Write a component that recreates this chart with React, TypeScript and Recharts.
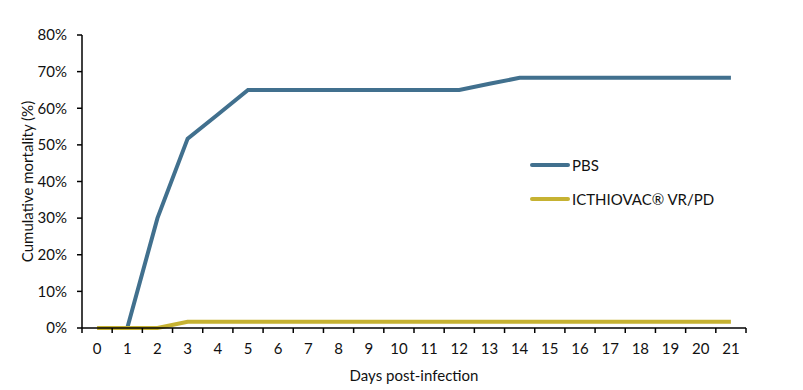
import React from 'react';
import { LineChart, Line, XAxis, YAxis, Legend, Label } from 'recharts';

const days = [0, 1, 2, 3, 4, 5, 6, 7, 8, 9, 10, 11, 12, 13, 14, 15, 16, 17, 18, 19, 20, 21];
const pbs: (number | null)[] = [null, 0, 30, 51.7, 58.3, 65, 65, 65, 65, 65, 65, 65, 65, 66.7, 68.3, 68.3, 68.3, 68.3, 68.3, 68.3, 68.3, 68.3];
const icthiovac = [0, 0, 0, 1.7, 1.7, 1.7, 1.7, 1.7, 1.7, 1.7, 1.7, 1.7, 1.7, 1.7, 1.7, 1.7, 1.7, 1.7, 1.7, 1.7, 1.7, 1.7];
const yTicks = [0, 10, 20, 30, 40, 50, 60, 70, 80];
const seriesNames = ['PBS', 'ICTHIOVAC® VR/PD'];
const colors = ['#41708E', '#C6B232'];

const data = days.map((d, i) => ({ day: d, pbs: pbs[i], ict: icthiovac[i] }));
const xTicks: number[] = [];
days.forEach((d) => { xTicks.push(d - 0.5); xTicks.push(d); });
xTicks.push(days[days.length - 1] + 0.5);

const FONT = 'Lato, sans-serif';
const TEXT = '#111';
const FS = 15;

const XTick = (props: any) => {
  const { x, y, payload } = props;
  const v = payload.value;
  if (Math.abs(v - Math.round(v)) > 0.01) {
    return <line x1={x} x2={x} y1={y} y2={y + 5} stroke="#000" strokeWidth={1.5} />;
  }
  return (
    <text x={x} y={y + 26} textAnchor="middle" fontSize={FS} fontFamily={FONT} fill={TEXT}>{v}</text>
  );
};

const LegendContent = () => (
  <div style={{ fontFamily: FONT, fontSize: FS, color: TEXT }}>
    {seriesNames.map((n, i) => (
      <div key={n} style={{ display: 'flex', alignItems: 'center', height: 34 }}>
        <div style={{ width: 40, height: 4, borderRadius: 2, background: colors[i], marginRight: 2 }} />
        <span>{n}</span>
      </div>
    ))}
  </div>
);

export default function App() {
  return (
    <div style={{ position: 'absolute', left: 0, top: 0, width: 803, height: 390, background: '#fff' }}>
      <LineChart width={803} height={390} data={data} margin={{ top: 35, right: 57, bottom: 6, left: 22 }}>
        <XAxis
          dataKey="day"
          type="number"
          domain={[-0.5, 21.5]}
          ticks={xTicks}
          interval={0}
          tickLine={false}
          tickSize={0}
          tickMargin={0}
          tick={<XTick />}
          axisLine={{ stroke: '#000', strokeWidth: 1.5 }}
          height={56}
        >
          <Label
            content={(p: any) => {
              const vb = p.viewBox;
              return (
                <text x={vb.x + vb.width / 2} y={vb.y + 53} textAnchor="middle" fontSize={FS} fontFamily={FONT} fill={TEXT}>
                  Days post-infection
                </text>
              );
            }}
          />
        </XAxis>
        <YAxis
          type="number"
          domain={[0, 80]}
          ticks={yTicks}
          interval={0}
          width={60}
          tickFormatter={(v: number) => `${v}%`}
          tick={{ fontSize: FS, fontFamily: FONT, fill: TEXT }}
          tickLine={{ stroke: '#000', strokeWidth: 1.5 }}
          tickSize={5}
          tickMargin={10}
          axisLine={{ stroke: '#000', strokeWidth: 1.5 }}
        >
          <Label
            content={(p: any) => {
              const vb = p.viewBox;
              const cx = vb.x + 5;
              const cy = vb.y + vb.height / 2;
              return (
                <text x={cx} y={cy} transform={`rotate(-90, ${cx}, ${cy})`} textAnchor="middle" dominantBaseline="central" fontSize={FS} fontFamily={FONT} fill={TEXT}>
                  Cumulative mortality (%)
                </text>
              );
            }}
          />
        </YAxis>
        <Legend
          layout="horizontal"
          verticalAlign="middle"
          align="center"
          wrapperStyle={{ left: 530, top: 148, width: 220 }}
          content={<LegendContent />}
        />
        <Line dataKey="pbs" name={seriesNames[0]} stroke={colors[0]} strokeWidth={4} dot={false} isAnimationActive={false} connectNulls={false} />
        <Line dataKey="ict" name={seriesNames[1]} stroke={colors[1]} strokeWidth={4} dot={false} isAnimationActive={false} />
      </LineChart>
    </div>
  );
}
